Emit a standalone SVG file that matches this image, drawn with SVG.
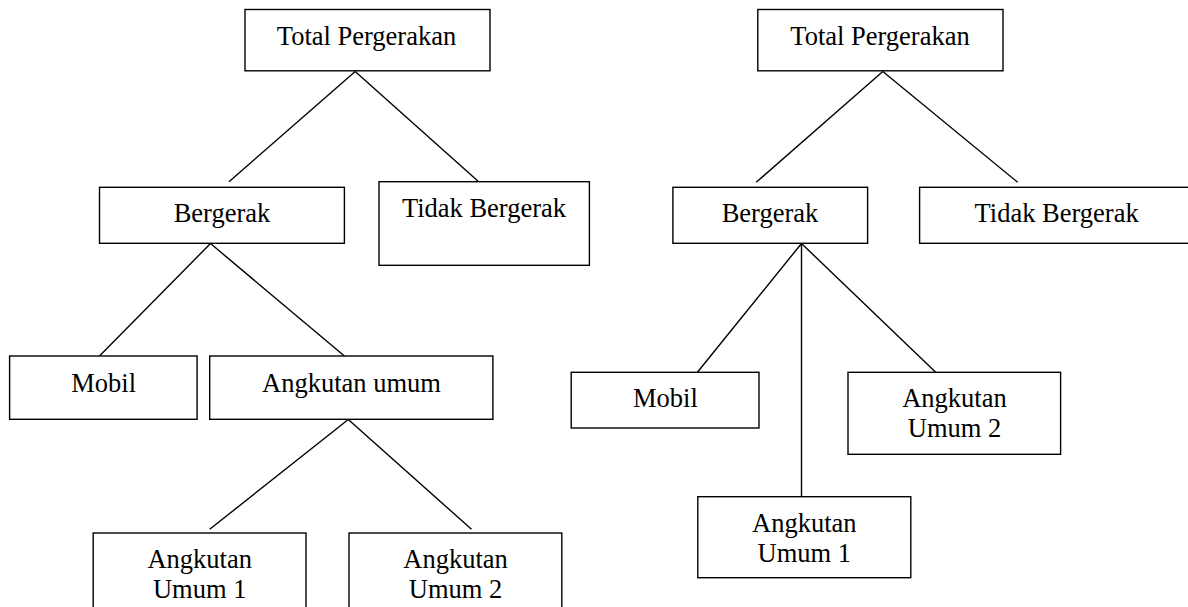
<svg xmlns="http://www.w3.org/2000/svg" width="1188" height="607" viewBox="0 0 1188 607">
<style>
rect{fill:#fff;stroke:#000;stroke-width:1.4}
line{stroke:#000;stroke-width:1.4}
text{font-family:"Liberation Serif","Times New Roman",serif;font-size:26.5px;fill:#000;text-anchor:middle}
</style>
<rect x="0" y="0" width="1188" height="607" style="stroke:none"/>
<g id="connectors">
<line x1="355.2" y1="71.5" x2="229" y2="181.7"/>
<line x1="355.2" y1="71.5" x2="478.4" y2="181.5"/>
<line x1="210.5" y1="243.5" x2="99.5" y2="356"/>
<line x1="210.5" y1="243.5" x2="344.4" y2="356"/>
<line x1="348.3" y1="419.5" x2="209.7" y2="529.3"/>
<line x1="348.3" y1="419.5" x2="471.5" y2="529.3"/>
<line x1="882.8" y1="71.5" x2="756.2" y2="182.3"/>
<line x1="882.8" y1="71.5" x2="1017.7" y2="182.3"/>
<line x1="801.5" y1="243.5" x2="697.4" y2="372.3"/>
<line x1="801.5" y1="243.5" x2="801.5" y2="496.7"/>
<line x1="801.5" y1="243.5" x2="935.7" y2="372.3"/>
</g>
<g id="l-total"><rect x="245" y="9.5" width="245" height="61.3"/><text x="366.5" y="45">Total Pergerakan</text></g>
<g id="l-bergerak"><rect x="99.5" y="187.3" width="244.9" height="56"/><text x="222" y="221.7">Bergerak</text></g>
<g id="l-tidak"><rect x="379" y="181.7" width="210.4" height="83.6"/><text x="484" y="216.7">Tidak Bergerak</text></g>
<g id="l-mobil"><rect x="9.6" y="356" width="187.5" height="63.3"/><text x="103.7" y="391.7">Mobil</text></g>
<g id="l-angkutan"><rect x="209.7" y="356" width="283.2" height="63.3"/><text x="351.5" y="391.7">Angkutan umum</text></g>
<g id="l-au1"><rect x="93.2" y="533" width="212.8" height="90"/><text x="199.7" y="568.3">Angkutan</text><text x="199.7" y="598.3">Umum 1</text></g>
<g id="l-au2"><rect x="349" y="533" width="212.8" height="90"/><text x="455.6" y="568.3">Angkutan</text><text x="455.6" y="598.3">Umum 2</text></g>
<g id="r-total"><rect x="757.8" y="9.5" width="245.2" height="61.3"/><text x="880" y="45">Total Pergerakan</text></g>
<g id="r-bergerak"><rect x="672.9" y="187.3" width="194.7" height="56"/><text x="770" y="221.7">Bergerak</text></g>
<g id="r-tidak"><rect x="919.6" y="187.3" width="280" height="56"/><text x="1056.6" y="221.7">Tidak Bergerak</text></g>
<g id="r-mobil"><rect x="571.2" y="372.3" width="187.8" height="55.7"/><text x="665.4" y="407.3">Mobil</text></g>
<g id="r-au2"><rect x="848" y="372.3" width="212.6" height="82"/><text x="954.5" y="407.3">Angkutan</text><text x="954.5" y="437.3">Umum 2</text></g>
<g id="r-au1"><rect x="697.8" y="496.7" width="213" height="81"/><text x="804.3" y="531.7">Angkutan</text><text x="804.3" y="561.7">Umum 1</text></g>
</svg>
